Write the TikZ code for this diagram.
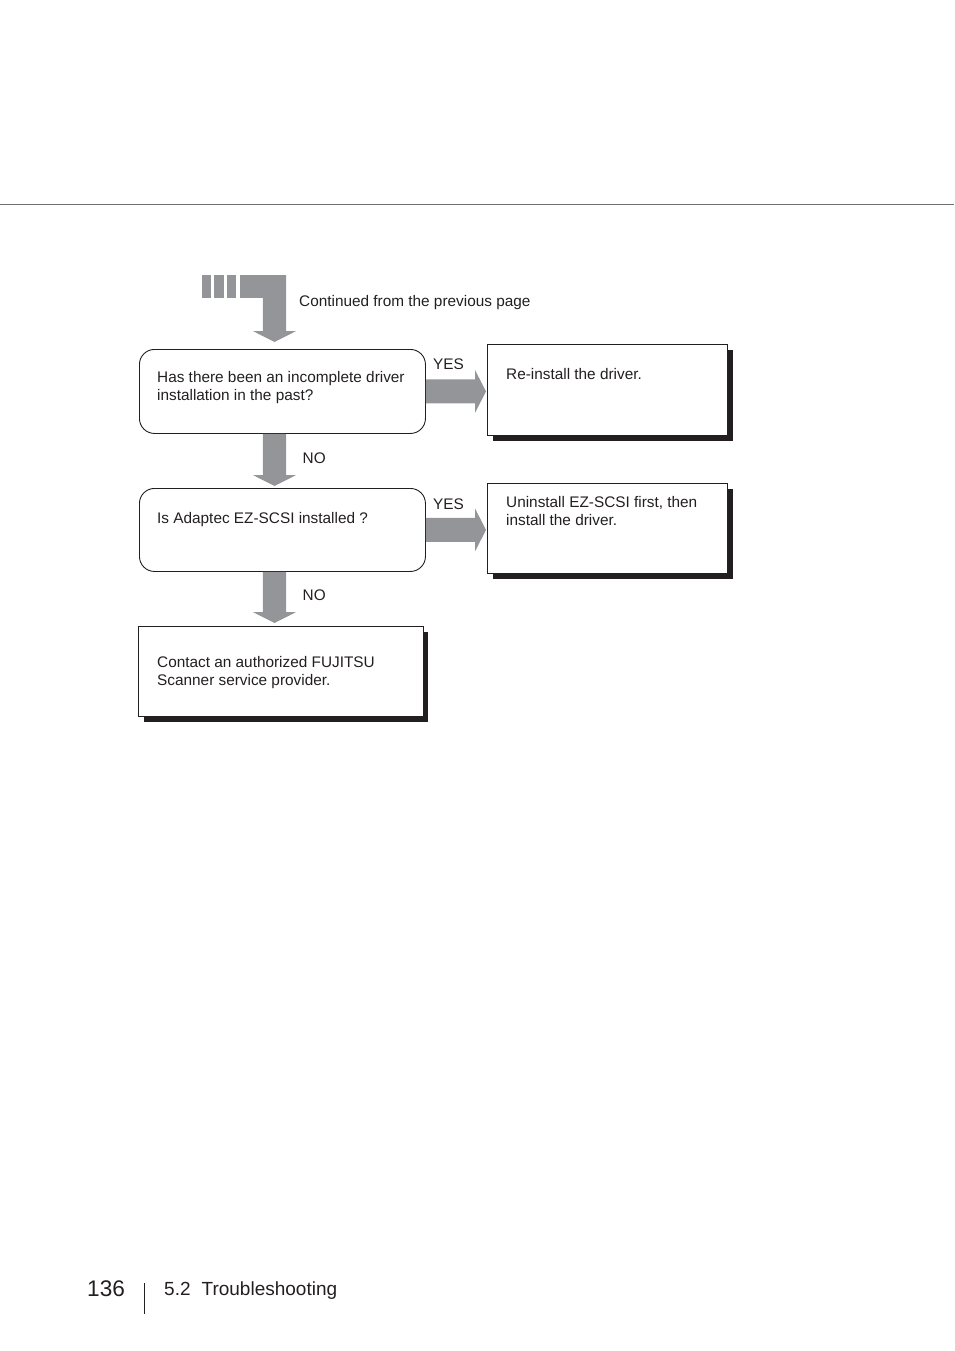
\documentclass[tikz,border=0pt]{standalone}
\usepackage{fontspec}
\setmainfont{Liberation Sans}
\usetikzlibrary{calc,shadows}
\definecolor{flowgray}{RGB}{147,149,152}
\definecolor{ink}{RGB}{35,31,32}
\definecolor{rulegray}{RGB}{109,110,113}
\tikzset{>=latex}
\tikzset{
  txt/.style={font=\fontsize{15.35}{18.2}\selectfont,text=ink,inner sep=0pt,align=left,anchor=north west},
  lbl/.style={font=\fontsize{15.35}{18.2}\selectfont,text=ink,inner sep=0pt,anchor=base west},
  question/.style={draw=ink,line width=0.9pt,rounded corners=15pt,inner sep=0pt,anchor=north west},
  answer/.style={draw=ink,line width=0.9pt,inner sep=0pt,anchor=north west,fill=white,
    drop shadow={shadow xshift=5.5pt,shadow yshift=-5.5pt,fill=ink,opacity=1}},
  downflow/.style={fill=flowgray,to path={
      ($(\tikztostart)+(-11.7,0)$) -- ($(\tikztotarget)+(-11.7,-11)$)
      -- ($(\tikztotarget)+(-21.7,-11)$) -- (\tikztotarget)
      -- ($(\tikztotarget)+(21.7,-11)$) -- ($(\tikztotarget)+(11.7,-11)$)
      -- ($(\tikztostart)+(11.7,0)$) -- cycle}},
  rightflow/.style={fill=flowgray,to path={
      ($(\tikztostart)+(0,-12)$) -- ($(\tikztotarget)+(-11,-12)$)
      -- ($(\tikztotarget)+(-11,-21.5)$) -- (\tikztotarget)
      -- ($(\tikztotarget)+(-11,21.5)$) -- ($(\tikztotarget)+(-11,12)$)
      -- ($(\tikztostart)+(0,12)$) -- cycle}}
}

\begin{document}
\begin{tikzpicture}[x=1pt,y=-1pt]
    \useasboundingbox (0,0) rectangle (954,1351);
    \draw[rulegray,line width=0.8pt] (0,204.5) -- (954,204.5);

    \coordinate (axis) at (274.5,275);
    \node[question,minimum width=286pt,minimum height=84pt] (quest1) at (139,349) {};
    \node[question,minimum width=286pt,minimum height=83pt] (quest2) at (139,488) {};
    \node[answer,minimum width=240pt,minimum height=91pt] (fix1) at (487,344) {};
    \node[answer,minimum width=240pt,minimum height=90pt] (fix2) at (487,483) {};
    \node[answer,minimum width=284.5pt,minimum height=90pt] (contact) at (138,626) {};
    \coordinate (tip0) at ($(quest1.north -| axis)+(0,-7)$);

    % continued connector
    \foreach \x in {201.5,214,226.5}
        \fill[flowgray] (\x,275) rectangle ++(9.5,22.5);
    \fill[flowgray] (240,275) rectangle (286,297.5);
    \path[downflow] (axis) to (tip0);
    \node[lbl] (cont) at (299,306.7) {Continued from the previous page};

    \path[downflow] (quest1.south -| axis) to ($(quest2.north -| axis)+(0,-2)$);
    \path[downflow] (quest2.south -| axis) to ($(contact.north -| axis)+(0,-3)$);
    \path[rightflow] (quest1.east) to ($(quest1.east -| fix1.west)+(-1,0)$);
    \path[rightflow] (quest2.east) to ($(quest2.east -| fix2.west)+(-1,0)$);

    \node[lbl] (yes1) at (433,369.5) {YES};
    \node[lbl] (yes2) at (433,509) {YES};
    \node[lbl] (no1) at (302.5,463.3) {NO};
    \node[lbl] (no2) at (302.5,600) {NO};

    \node[txt] (quest1txt) at ($(quest1.north west)+(18,21.7)$) {Has there been an incomplete driver\\installation in the past?};
    \node[txt] (quest2txt) at ($(quest2.north west)+(18,24.3)$) {Is Adaptec EZ-SCSI installed ?};
    \node[txt] (fix1txt) at ($(fix1.north west)+(19,24)$) {Re-install the driver.};
    \node[txt] (fix2txt) at ($(fix2.north west)+(19,13)$) {Uninstall EZ-SCSI first, then\\install the driver.};
    \node[txt] (contacttxt) at ($(contact.north west)+(19,30.3)$) {Contact an authorized FUJITSU\\Scanner service provider.};

    % footer
    \node[lbl,font=\fontsize{22.6}{26}\selectfont] (page) at (87,1296) {136};
    \draw[ink,line width=1.8pt] (144.5,1283) -- (144.5,1314);
    \node[lbl,font=\fontsize{19}{22}\selectfont] (section) at (164,1295) {5.2\hspace{11pt}Troubleshooting};
\end{tikzpicture}
\end{document}
